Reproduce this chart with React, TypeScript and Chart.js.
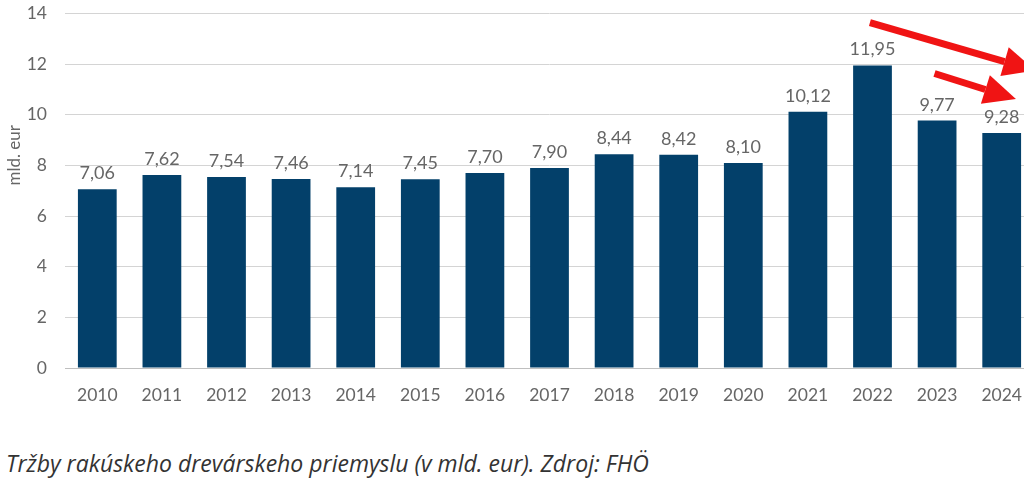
import React, { useEffect, useRef } from "react";
import { Chart, registerables } from "chart.js";

Chart.register(...registerables);

const years = ["2010","2011","2012","2013","2014","2015","2016","2017","2018","2019","2020","2021","2022","2023","2024"];
const revenue = [7.06, 7.62, 7.54, 7.46, 7.14, 7.45, 7.70, 7.90, 8.44, 8.42, 8.10, 10.12, 11.95, 9.77, 9.28];
const yTitle = "mld. eur";
const caption = "Tržby rakúskeho drevárskeho priemyslu (v mld. eur). Zdroj: FHÖ";
// arrows in data coordinates: [fromIndex, fromValue, toIndex, toValue]
const arrows = [
  [11.96, 13.64, 14.52, 11.75],
  [12.96, 11.63, 14.22, 10.62],
];

const FONT = "Lato, 'Open Sans', sans-serif";

export default function App() {
  const ref = useRef<HTMLCanvasElement>(null);
  useEffect(() => {
    document.body.style.margin = "0";
    document.body.style.overflow = "hidden";
    const labelPlugin = {
      id: "valueLabels",
      afterDatasetsDraw(chart: any) {
        const ctx = chart.ctx;
        const meta = chart.getDatasetMeta(0);
        ctx.save();
        ctx.font = `18px ${FONT}`;
        ctx.fillStyle = "#666666";
        ctx.textAlign = "center";
        ctx.textBaseline = "alphabetic";
        meta.data.forEach((bar: any, i: number) => {
          ctx.fillText(revenue[i].toFixed(2).replace(".", ","), bar.x, bar.y - 10);
        });
        // y-axis title
        const ys = chart.scales.y;
        ctx.translate(15, ys.getPixelForValue(8.4));
        ctx.rotate(-Math.PI / 2);
        ctx.font = `17px ${FONT}`;
        ctx.textBaseline = "middle";
        ctx.fillText(yTitle, 0, 0);
        ctx.restore();
      },
    };
    const arrowPlugin = {
      id: "arrows",
      afterDraw(chart: any) {
        const ctx = chart.ctx;
        const xs = chart.scales.x;
        const ys = chart.scales.y;
        ctx.save();
        ctx.strokeStyle = "#f01414";
        ctx.fillStyle = "#f01414";
        arrows.forEach(([i0, v0, i1, v1]) => {
          const x0 = xs.getPixelForValue(i0);
          const y0 = ys.getPixelForValue(v0);
          const x1 = xs.getPixelForValue(i1);
          const y1 = ys.getPixelForValue(v1);
          const ang = Math.atan2(y1 - y0, x1 - x0);
          const headLen = 32;
          const headW = 15;
          const bx = x1 - headLen * Math.cos(ang);
          const by = y1 - headLen * Math.sin(ang);
          ctx.lineWidth = 7;
          ctx.beginPath();
          ctx.moveTo(x0, y0);
          ctx.lineTo(bx, by);
          ctx.stroke();
          ctx.beginPath();
          ctx.moveTo(x1, y1);
          ctx.lineTo(bx + headW * Math.sin(ang), by - headW * Math.cos(ang));
          ctx.lineTo(bx - headW * Math.sin(ang), by + headW * Math.cos(ang));
          ctx.closePath();
          ctx.fill();
        });
        ctx.restore();
      },
    };
    const chart = new Chart(ref.current!, {
      type: "bar",
      data: {
        labels: years,
        datasets: [
          {
            data: revenue,
            backgroundColor: "#03406a",
            barPercentage: 0.6,
            categoryPercentage: 1,
          },
        ],
      },
      options: {
        animation: false,
        responsive: false,
        maintainAspectRatio: false,
        layout: { padding: { top: 0, left: 0, right: 0, bottom: 0 } },
        plugins: { legend: { display: false }, tooltip: { enabled: false } },
        scales: {
          x: {
            grid: { display: false, drawTicks: false },
            border: { color: "#bfbfbf", width: 1 },
            ticks: { color: "#666666", font: { family: FONT, size: 17.5 }, padding: 17 },
            afterFit(scale: any) { scale.height = 50; },
          },
          y: {
            min: 0,
            max: 14,
            ticks: { stepSize: 2, color: "#666666", font: { family: FONT, size: 17.5 }, padding: 18 },
            grid: { color: "#d4d4d4", drawTicks: false },
            border: { display: false },
            title: { display: false },
            afterFit(scale: any) { scale.width = 65; },
          },
        },
      },
      plugins: [labelPlugin, arrowPlugin],
    });
    return () => chart.destroy();
  }, []);
  return (
    <div style={{ position: "relative", width: 1024, height: 487, overflow: "hidden", background: "#fff" }}>
      <canvas ref={ref} width={1039} height={433} style={{ position: "absolute", left: 0, top: -15 }} />
      <div
        style={{
          position: "absolute",
          left: 6,
          top: 448,
          fontFamily: "'Open Sans', sans-serif",
          fontStyle: "italic",
          fontSize: 23,
          lineHeight: "30px",
          color: "#333333",
          whiteSpace: "nowrap",
        }}
      >
        {caption}
      </div>
    </div>
  );
}
